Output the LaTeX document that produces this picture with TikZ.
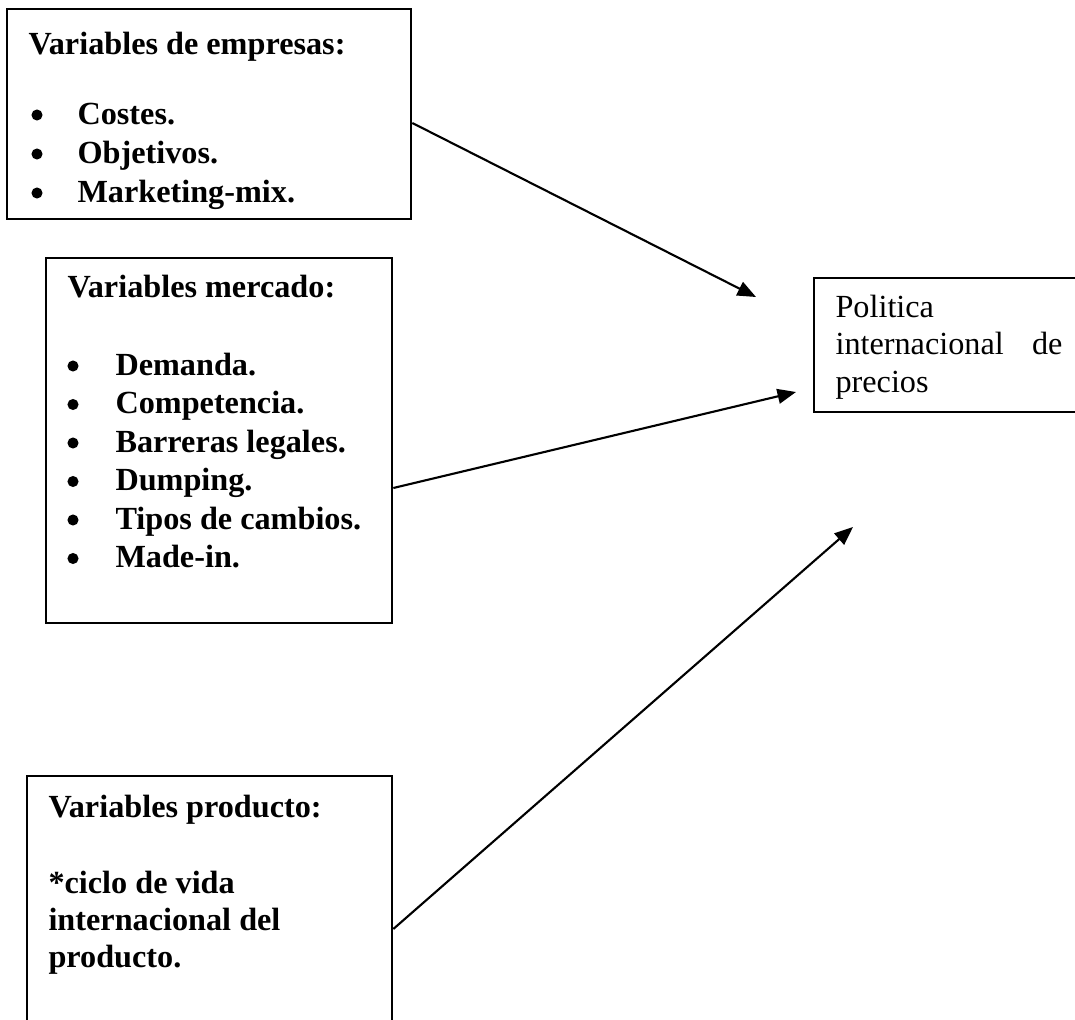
\documentclass[tikz,border=0pt]{standalone}
\usepackage{fontspec}
\setmainfont{Liberation Serif}
\usetikzlibrary{arrows.meta,fit}
\begin{document}
\begin{tikzpicture}[x=0.3785pt,y=-0.3785pt,
  box/.style={draw, line width=1pt, inner sep=0pt},
  txt/.style={anchor=base west, inner sep=0pt, font=\fontsize{12.2}{14}\selectfont},
  btxt/.style={anchor=base west, inner sep=0pt, font=\fontsize{12.2}{14}\selectfont\bfseries},
  bul/.style={circle, fill, inner sep=0pt, minimum size=4.2pt},
  conn/.style={line width=0.8pt, -{Triangle[length=7pt,width=5.6pt]}}]
\clip (0,0) rectangle (1075,1020);
\fill[white] (0,0) rectangle (1075,1020);
% boxes
\node[box, fit={(7,9) (411,219)}] (b1) {};
\node[box, fit={(46,258) (392,623)}] (b2) {};
\node[box, fit={(814,278) (1095,412)}] (b3) {};
\node[box, fit={(27,776) (392,1040)}] (b4) {};
% box 1 text
\node[btxt] (b1t) at (28,55) {Variables de empresas:};
\node[bul] (b1p1) at (37,115) {};
\node[bul] (b1p2) at (37,154) {};
\node[bul] (b1p3) at (37,193) {};
\node[btxt] (b1i1) at (77,125) {Costes.};
\node[btxt] (b1i2) at (77,164) {Objetivos.};
\node[btxt] (b1i3) at (77,203) {Marketing-mix.};
% box 2 text
\node[btxt] (b2t) at (67,298) {Variables mercado:};
\node[bul] (b2p1) at (73,366) {};
\node[bul] (b2p2) at (73,404.5) {};
\node[bul] (b2p3) at (73,443) {};
\node[bul] (b2p4) at (73,481.5) {};
\node[bul] (b2p5) at (73,520) {};
\node[bul] (b2p6) at (73,558.5) {};
\node[btxt] (b2i1) at (115,375) {Demanda.};
\node[btxt] (b2i2) at (115,413.5) {Competencia.};
\node[btxt] (b2i3) at (115,452) {Barreras legales.};
\node[btxt] (b2i4) at (115,490.5) {Dumping.};
\node[btxt] (b2i5) at (115,529) {Tipos de cambios.};
\node[btxt] (b2i6) at (115,567.5) {Made-in.};
% box 3 text
\node[txt] (b3l1) at (835,318) {Politica};
\node[txt] (b3l2) at (835,355) {\makebox[85.9pt][s]{internacional de}};
\node[txt] (b3l3) at (835,392) {precios};
% box 4 text
\node[btxt] (b4t) at (48,817) {Variables producto:};
\node[btxt] (b4l1) at (48,893) {*ciclo de vida};
\node[btxt] (b4l2) at (48,930) {internacional del};
\node[btxt] (b4l3) at (48,967) {producto.};
% connectors
\coordinate (s1) at (b1.east |- 0,123);
\coordinate (t1) at (756,297);
\coordinate (s2) at (b2.east |- 0,488);
\coordinate (t2) at (796,392);
\coordinate (s3) at (b4.east |- 0,929);
\coordinate (t3) at (853,527);
\draw[conn] (s1) -- (t1);
\draw[conn] (s2) -- (t2);
\draw[conn] (s3) -- (t3);
\end{tikzpicture}
\end{document}
